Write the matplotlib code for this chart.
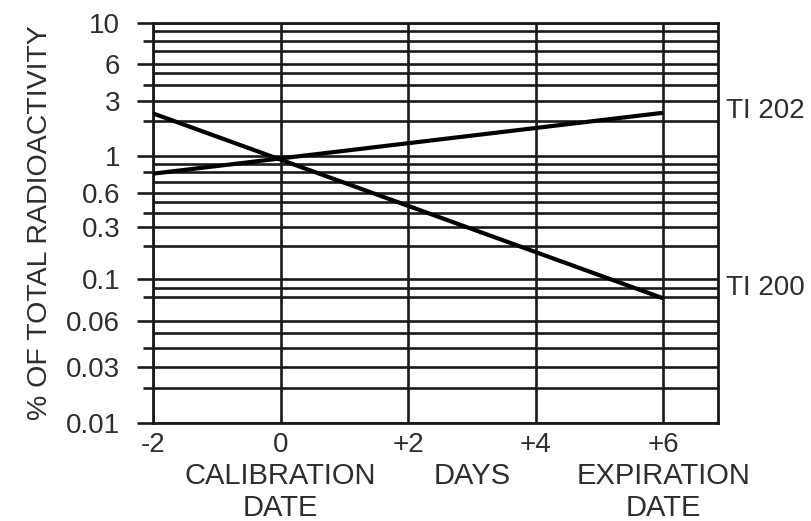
import numpy as np
import matplotlib
matplotlib.use("Agg")
import matplotlib.pyplot as plt
from matplotlib.ticker import NullFormatter

plt.rcParams['font.family'] = ['Liberation Sans', 'DejaVu Sans']

# ---- data ----
days = [-2, 0, 2, 4, 6]
day_labels = ['-2', '0', '+2', '+4', '+6']

y_ticks = [10, 6, 3, 1, 0.6, 0.3, 0.1, 0.06, 0.03, 0.01]
y_tick_labels = ['10', '6', '3', '1', '0.6', '0.3', '0.1', '0.06', '0.03', '0.01']
y_short_ticks = [8, 4, 2, 0.8, 0.4, 0.2, 0.08, 0.04, 0.02]
grid_vals = [10, 9, 8, 7, 6, 5, 4, 3, 2, 1, 0.9, 0.8, 0.7, 0.6, 0.5, 0.4,
             0.3, 0.2, 0.1, 0.09, 0.08, 0.06, 0.05, 0.04, 0.03, 0.02, 0.01]

tl202_x = [-2, 6]
tl202_y = [0.785, 2.36]
tl200_x = [-2, 6]
tl200_y = [2.33, 0.079]

bottom_notes = [(0, 'CALIBRATION\nDATE'), (3, 'DAYS'), (6, 'EXPIRATION\nDATE')]
side_labels = [('TI 202', 2.45), ('TI 200', 0.09)]

# ---- the paper is not a true log scale: spacing of the printed decades ----
knot_vals = np.log10([0.01, 0.03, 0.06, 0.1, 0.3, 0.6, 1, 3, 6, 10])
knot_pos = np.array([0, 55.7, 102, 143.7, 195.7, 229.7, 266.7, 322.2, 359.2, 400.2])


def fwd(v):
    v = np.clip(np.asarray(v, dtype=float), 1e-6, None)
    return np.interp(np.log10(v), knot_vals, knot_pos)


def inv(p):
    return 10 ** np.interp(p, knot_pos, knot_vals)


INK = '#1a1a1a'
TXT = '#2e2e2e'
FS = 20

fig = plt.figure(figsize=(8.11, 5.21), dpi=100)
ax = fig.add_axes([153 / 811, 1 - 422.7 / 521, (718 - 153) / 811, 400 / 521])
ax.set_yscale('function', functions=(fwd, inv))
x_lo, x_hi = -2, 6.86
ax.set_xlim(x_lo, x_hi)
ax.set_ylim(0.01, 10)

# grid
ax.hlines(grid_vals, x_lo, x_hi, colors=INK, linewidth=1.9, zorder=1)
ax.vlines(days, 0.01, 10, colors=INK, linewidth=1.9, zorder=1)

# decay lines
ax.plot(tl202_x, tl202_y, color='black', linewidth=3, zorder=3, solid_capstyle='butt')
ax.plot(tl200_x, tl200_y, color='black', linewidth=3, zorder=3, solid_capstyle='butt')

for sp in ax.spines.values():
    sp.set_color(INK)
    sp.set_linewidth(2)

ax.set_yticks(y_ticks, labels=y_tick_labels)
ax.set_yticks(y_short_ticks, minor=True)
ax.yaxis.set_minor_formatter(NullFormatter())
ax.tick_params(axis='y', which='major', length=11.5, width=1.9, color=INK,
               pad=12, labelsize=FS, labelcolor=TXT)
ax.tick_params(axis='y', which='minor', length=7, width=1.9, color=INK)

ax.set_xticks(days, labels=day_labels)
ax.tick_params(axis='x', length=0, pad=7, labelsize=FS, labelcolor=TXT)

for x, txt in bottom_notes:
    ax.annotate(txt, xy=(x, 0), xycoords=('data', 'axes fraction'),
                xytext=(0, -28), textcoords='offset points',
                ha='center', va='top', fontsize=21, color=TXT, linespacing=1.2)

for txt, y in side_labels:
    ax.annotate(txt, xy=(1, y), xycoords=('axes fraction', 'data'),
                xytext=(6, 0), textcoords='offset points',
                ha='left', va='center', fontsize=FS, color=TXT)

fig.text(40 / 811, 1 - 223 / 521, '% OF TOTAL RADIOACTIVITY', rotation=90,
         ha='center', va='center', fontsize=20.5, color=TXT)

fig.savefig('out.png', dpi=100)
